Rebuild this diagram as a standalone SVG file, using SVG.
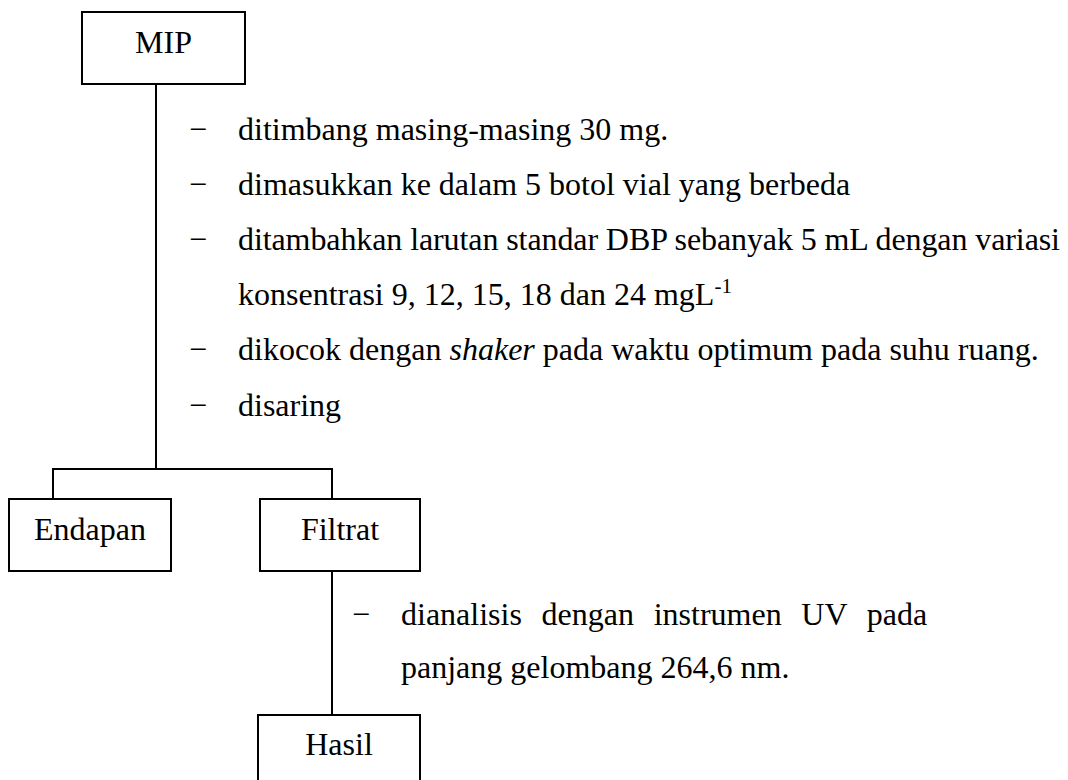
<svg xmlns="http://www.w3.org/2000/svg" width="1068" height="780" viewBox="0 0 1068 780">
<style>
.box{fill:#fff;stroke:#000;stroke-width:2}
.ln{fill:none;stroke:#000;stroke-width:2}
text{font-family:"Liberation Serif","Times New Roman",serif;font-size:32px;fill:#000}
.c{text-anchor:middle}
</style>
<rect width="1068" height="780" fill="#fff"/>
<g id="connectors">
<line class="ln" x1="156" y1="84" x2="156" y2="469"/>
<polyline class="ln" points="53,499 53,469 332,469 332,499"/>
<line class="ln" x1="332" y1="571" x2="332" y2="715"/>
</g>
<g id="node-mip">
<rect class="box" x="82" y="12" width="163" height="72"/>
<text class="c" x="163.5" y="53">MIP</text>
</g>
<g id="steps-1">
<text x="189" y="140">−</text><text x="238" y="140">ditimbang masing-masing 30 mg.</text>
<text x="189" y="195">−</text><text x="238" y="195">dimasukkan ke dalam 5 botol vial yang berbeda</text>
<text x="189" y="250">−</text><text x="238" y="250" textLength="822" lengthAdjust="spacing">ditambahkan larutan standar DBP sebanyak 5 mL dengan variasi</text>
<text x="238" y="305">konsentrasi 9, 12, 15, 18 dan 24 mgL<tspan font-size="21" dy="-12">-1</tspan></text>
<text x="189" y="360">−</text><text x="238" y="360">dikocok dengan <tspan font-style="italic">shaker</tspan> pada waktu optimum pada suhu ruang.</text>
<text x="189" y="416">−</text><text x="238" y="416">disaring</text>
</g>
<g id="node-endapan">
<rect class="box" x="9" y="499" width="162" height="72"/>
<text class="c" x="90" y="540">Endapan</text>
</g>
<g id="node-filtrat">
<rect class="box" x="260" y="499" width="160" height="72"/>
<text class="c" x="340" y="540">Filtrat</text>
</g>
<g id="steps-2">
<text x="352" y="625">−</text><text x="401" y="625" word-spacing="11.7">dianalisis dengan instrumen UV pada</text>
<text x="401" y="678">panjang gelombang 264,6 nm.</text>
</g>
<g id="node-hasil">
<rect class="box" x="258" y="715" width="162" height="80"/>
<text class="c" x="339" y="755">Hasil</text>
</g>
</svg>
